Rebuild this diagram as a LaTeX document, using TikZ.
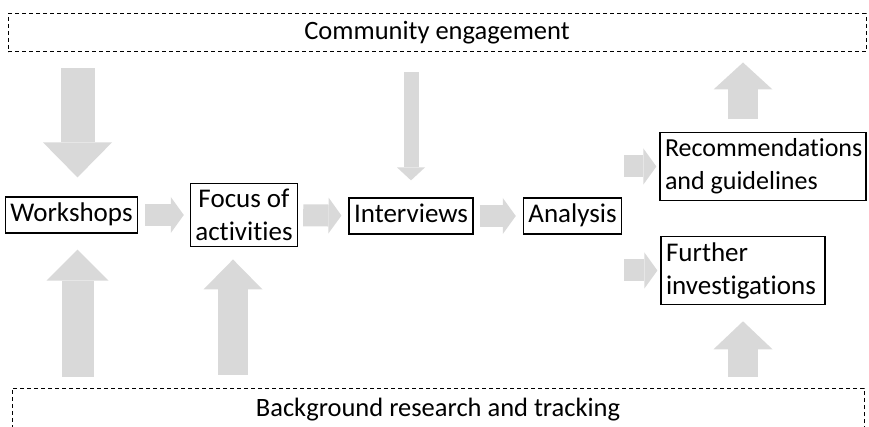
\documentclass[tikz,border=0pt]{standalone}
\usepackage{fontspec}
\setmainfont{Carlito}[Ligatures={NoCommon}]
\usetikzlibrary{arrows.meta}
\definecolor{blockgrey}{HTML}{D9D9D9}

\begin{document}
\begin{tikzpicture}[x=1pt, y=-1pt]
    \tikzstyle{every node} = [font=\fontsize{27}{33}\selectfont]
    \tikzstyle{box} = [draw, line width=1.2pt, inner xsep=5pt, inner ysep=6pt, minimum height=36pt, align=center]
    \tikzstyle{onebox} = [box, text height=19pt, text depth=5pt, inner ysep=5pt]
    \tikzstyle{band} = [draw, dash pattern=on 4pt off 3pt, line width=1pt, font=\fontsize{26.5}{31}\selectfont]
    \tikzstyle{flow} = [draw=blockgrey, line width=22pt, -{Triangle[width=36pt, length=13pt, line width=0pt]}]
    \tikzstyle{fat} = [draw=blockgrey, line width=32pt, -{Triangle[width=62pt, length=31pt, line width=0pt]}]
    \useasboundingbox (0, 0) rectangle (869, 427);
    \node (comm) [band, minimum width=858pt, minimum height=38pt] at (437, 33) {Community engagement};
    \node (back) [band, minimum width=852pt, minimum height=44pt] at (438, 410) {Background research and tracking};
    \node (work) [onebox] at (71.5, 215) {Workshops};
    \node (focus) [box] at (244, 215) {Focus of\\activities};
    \node (inter) [onebox] at (411, 216) {Interviews};
    \node (ana) [onebox] at (572.5, 216) {Analysis};
    \node (rec) [box, align=flush left, text width=196pt, font=\fontsize{26}{33}\selectfont] at (763, 166.5) {Recommendations\\and guidelines};
    \node (further) [box, align=flush left, text width=154pt] at (743, 270.5) {Further\\investigations};
    \draw [fat, line width=34pt, -{Triangle[width=69pt, length=35pt, line width=0pt]}, shorten <=16pt, shorten >=19pt] ([xshift=6pt]work.north |- comm.south) -- ([xshift=6pt]work.north);
    \draw [fat, shorten <=11pt, shorten >=16pt] ([xshift=6pt]work.south |- back.north) -- ([xshift=6pt]work.south);
    \draw [fat, line width=30pt, -{Triangle[width=59pt, length=30pt, line width=0pt]}, shorten <=13pt, shorten >=12pt] ([xshift=-11pt]focus.south |- back.north) -- ([xshift=-11pt]focus.south);
    \draw [fat, line width=15pt, -{Triangle[width=28pt, length=13pt, line width=0pt]}, shorten <=20pt, shorten >=17pt] (inter.north |- comm.south) -- (inter.north);
    \draw [fat, line width=30pt, -{Triangle[width=59pt, length=27pt, line width=0pt]}, shorten <=13pt, shorten >=10pt] (further |- rec.north) -- (further |- comm.south);
    \draw [fat, line width=30pt, -{Triangle[width=59pt, length=28pt, line width=0pt]}, shorten <=11pt, shorten >=16pt] (further |- back.north) -- (further);
    \draw [flow, shorten <=7pt, shorten >=6pt] (work) -- (focus);
    \draw [flow, shorten <=5pt, shorten >=7pt] (focus) -- (inter);
    \draw [flow, shorten <=6pt, shorten >=7pt] (inter) -- (ana);
    \draw [flow, shorten <=2pt, shorten >=3pt] (ana.east |- rec) -- (rec);
    \draw [flow, shorten <=2pt, shorten >=3pt] (ana.east |- further) -- (further);
\end{tikzpicture}
\end{document}
